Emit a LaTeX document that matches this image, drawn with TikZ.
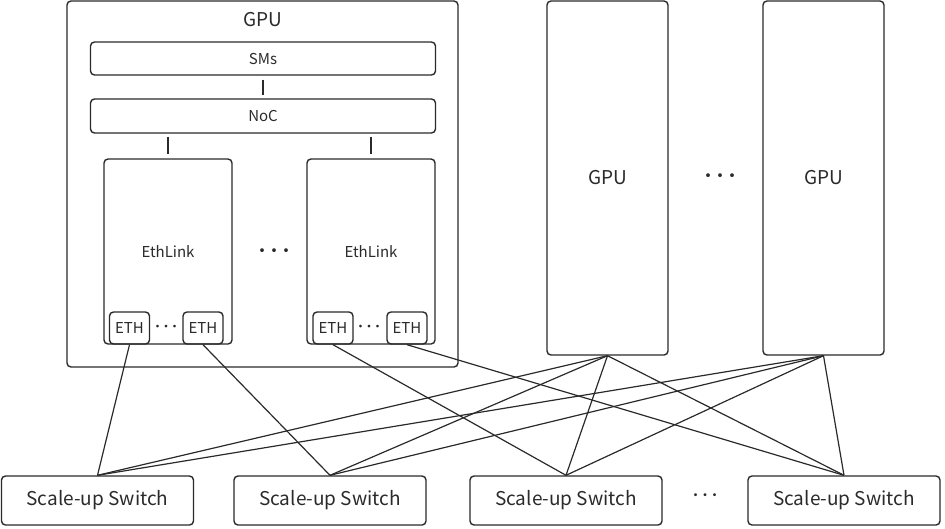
\documentclass[tikz,border=0pt]{standalone}
\usepackage{fontspec}
\setmainfont{Noto Sans CJK SC}
\definecolor{ink}{HTML}{2A2A2A}
\newcommand{\dotrow}[1]{\textbullet\hspace{#1}\textbullet\hspace{#1}\textbullet}

\begin{document}
\begin{tikzpicture}[x=1pt,y=-1pt]

        \useasboundingbox (0,0) rectangle (945,528);

        \begin{scope}[every node/.style={draw=ink, rounded corners=4pt, line width=1.4pt, inner sep=0pt, text=ink, font=\fontsize{15}{18}\selectfont}]
          \node[minimum width=391pt, minimum height=366pt] (gpu0) at (262.5,184) {};
          \node[minimum width=345pt, minimum height=33pt] (sms) at (263,58.5) {SMs};
          \node[minimum width=345pt, minimum height=34pt] (noc) at (263,116) {NoC};
          \node[minimum width=128pt, minimum height=185pt] (link0) at (168,251.5) {EthLink};
          \node[minimum width=128pt, minimum height=185pt] (link1) at (371,251.5) {EthLink};
          \node[minimum width=40pt, minimum height=32pt] (eth0) at (129.5,328) {ETH};
          \node[minimum width=40pt, minimum height=32pt] (eth1) at (203,328) {ETH};
          \node[minimum width=40pt, minimum height=32pt] (eth2) at (333,328) {ETH};
          \node[minimum width=40pt, minimum height=32pt] (eth3) at (407,328) {ETH};
          \node[minimum width=121pt, minimum height=354pt, font=\fontsize{19}{23}\selectfont] (gpu1) at (607.5,178) {GPU};
          \node[minimum width=121pt, minimum height=354pt, font=\fontsize{19}{23}\selectfont] (gpu2) at (823.5,178) {GPU};
        \end{scope}

        \begin{scope}[every node/.style={draw=ink, rounded corners=4pt, line width=1.4pt, inner sep=0pt, text=ink, minimum width=192pt, minimum height=49pt, font=\fontsize{19}{23}\selectfont}]
          \node (sw0) at (97.5,500.5) {Scale-up Switch};
          \node (sw1) at (330,500.5) {Scale-up Switch};
          \node (sw2) at (566,500.5) {Scale-up Switch};
          \node (sw3) at (844,500.5) {Scale-up Switch};
        \end{scope}

        \begin{scope}[every node/.style={text=ink, inner sep=0pt}]
          \node[font=\fontsize{19}{23}\selectfont] (title) at (263,20) {GPU};
          \node[font=\fontsize{18}{20}\selectfont] (dots0) at (274,253) {\dotrow{-6pt}};
          \node[font=\fontsize{18}{20}\selectfont] (dots1) at (720,178) {\dotrow{-6pt}};
          \node[font=\fontsize{13}{15}\selectfont] (dots2) at (166,328) {\dotrow{-4.5pt}};
          \node[font=\fontsize{13}{15}\selectfont] (dots3) at (369,328) {\dotrow{-4.5pt}};
          \node[font=\fontsize{14}{16}\selectfont] (dots4) at (705,497) {\dotrow{-4.5pt}};
        \end{scope}

        \begin{scope}[every edge/.style={draw=ink, line width=1.2pt}]
          \path (sms) edge[shorten <=4pt, shorten >=3pt] (noc);
          \path (link0.north |- noc.south) edge[shorten <=3pt, shorten >=4pt] (link0);
          \path (link1.north |- noc.south) edge[shorten <=3pt, shorten >=4pt] (link1);
          \path (eth0.south) edge (sw0.north);
          \path (eth1.south) edge (sw1.north);
          \path (eth2.south) edge (sw2.north);
          \path (eth3.south) edge (sw3.north);
          \path (gpu1.south) edge (sw0.north) edge (sw1.north) edge (sw2.north) edge (sw3.north);
          \path (gpu2.south) edge (sw0.north) edge (sw1.north) edge (sw2.north) edge (sw3.north);
        \end{scope}

      \end{tikzpicture}
\end{document}
